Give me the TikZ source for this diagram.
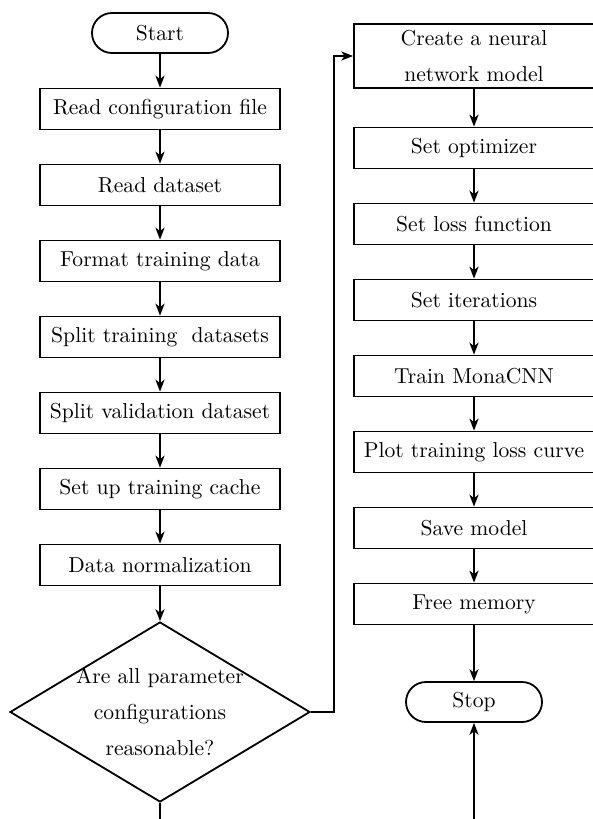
\documentclass[tikz,border=0pt]{standalone}
\usetikzlibrary{arrows.meta,shapes.geometric}

\tikzset{
  base/.style={draw, line width=0.9pt, inner sep=0pt,
    font={\fontsize{10.8}{18}\selectfont}, align=center},
  stepbox/.style={base, rectangle, minimum width=120pt, minimum height=20.5pt},
  terminal/.style={base, rectangle, rounded corners=10pt, minimum width=68pt, minimum height=20pt},
  decision/.style={base, diamond, minimum width=150pt, minimum height=90pt},
  flow/.style={line width=0.9pt, -{Stealth[length=6pt,width=4.6pt,inset=1.8pt]}},
  plain/.style={line width=0.9pt}
}

\begin{document}
\begin{tikzpicture}[x=0.5pt,y=-0.5pt]
\useasboundingbox (0,0) rectangle (593,819);

% left column: preparation steps
\node[terminal] (start) at (160,33) {Start};
\node[stepbox] (readcfg)  at (160,109) {Read configuration file};
\node[stepbox] (readdata) at (160,185) {Read dataset};
\node[stepbox] (format)   at (160,261) {Format training data};
\node[stepbox] (splittr)  at (160,337) {Split training~~datasets};
\node[stepbox] (splitval) at (160,413) {Split validation dataset};
\node[stepbox] (cache)    at (160,489) {Set up training cache};
\node[stepbox] (norm)     at (160,565) {Data normalization};
\node[decision] (check)   at (160,712) {};
\node[font={\fontsize{10.8}{18}\selectfont}, align=center, inner sep=0pt] (checktext) at (160,712)
  {Are all parameter\\configurations\\reasonable?};

% right column: training steps
\node[stepbox, minimum height=32pt] (create) at (474,56) {Create a neural\\network model};
\node[stepbox] (optim) at (474,148) {Set optimizer};
\node[stepbox] (loss)  at (474,224) {Set loss function};
\node[stepbox] (iter)  at (474,300) {Set iterations};
\node[stepbox] (train) at (474,376) {Train MonaCNN};
\node[stepbox] (plot)  at (474,452) {Plot training loss curve};
\node[stepbox] (save)  at (474,528) {Save model};
\node[stepbox] (free)  at (474,604) {Free memory};
\node[terminal] (stop) at (474,702) {Stop};

% loose ends running off the lower edge
\coordinate (noend) at (160,819);
\coordinate (back)  at (474,819);

% connectors
\draw[flow] (start) -- (readcfg);
\draw[flow] (readcfg) -- (readdata);
\draw[flow] (readdata) -- (format);
\draw[flow] (format) -- (splittr);
\draw[flow] (splittr) -- (splitval);
\draw[flow] (splitval) -- (cache);
\draw[flow] (cache) -- (norm);
\draw[flow] (norm) -- (check.north);
\draw[flow] (check.east) -- ++(23,0) |- (create.west);
\draw[plain] (check.south) -- (noend);

\draw[flow] (create) -- (optim);
\draw[flow] (optim) -- (loss);
\draw[flow] (loss) -- (iter);
\draw[flow] (iter) -- (train);
\draw[flow] (train) -- (plot);
\draw[flow] (plot) -- (save);
\draw[flow] (save) -- (free);
\draw[flow] (free) -- (stop);
\draw[flow] (back) -- (stop.south);
\end{tikzpicture}
\end{document}
